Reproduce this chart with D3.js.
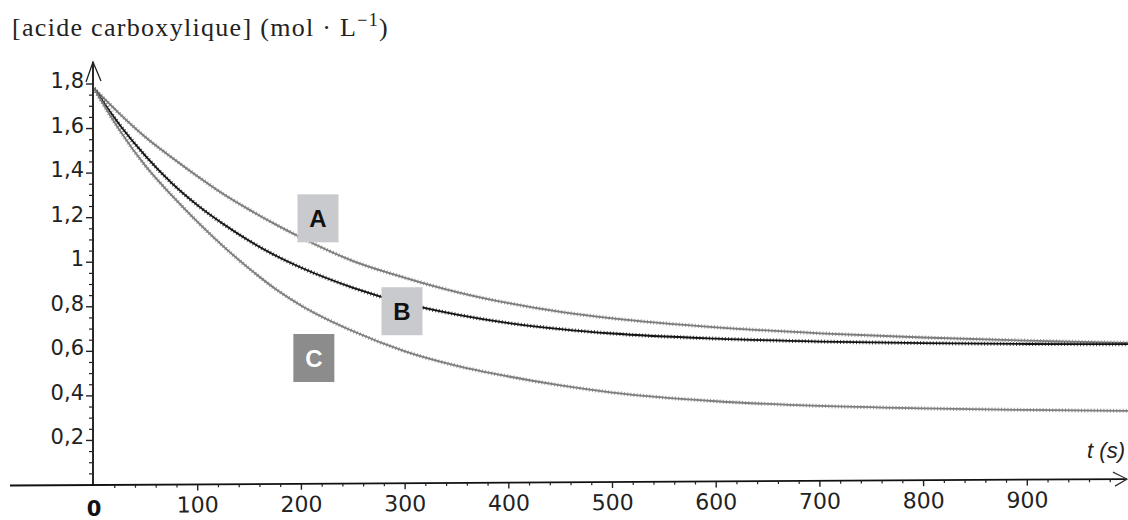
<!DOCTYPE html>
<html>
<head>
<meta charset="utf-8">
<script src="https://cdn.jsdelivr.net/npm/d3@7"></script>
<style>
  html, body { margin: 0; padding: 0; background: #fff; }
  svg { display: block; }
</style>
</head>
<body>
<svg id="chart" width="1128" height="520"></svg>
<script>
// ---- data ----
const times = [0, 25, 50, 75, 100, 125, 150, 175, 200, 250, 300, 350, 400, 450, 500, 600, 700, 800, 900, 1000];
const seriesA = [1.78, 1.665, 1.56, 1.47, 1.385, 1.305, 1.235, 1.17, 1.11, 1.005, 0.93, 0.866, 0.816, 0.777, 0.748, 0.708, 0.681, 0.662, 0.648, 0.638];
const seriesB = [1.78, 1.615, 1.475, 1.355, 1.255, 1.17, 1.095, 1.03, 0.975, 0.885, 0.815, 0.765, 0.727, 0.70, 0.68, 0.657, 0.644, 0.637, 0.633, 0.632];
const seriesC = [1.78, 1.59, 1.43, 1.30, 1.18, 1.07, 0.97, 0.88, 0.805, 0.69, 0.60, 0.535, 0.487, 0.447, 0.415, 0.376, 0.355, 0.344, 0.337, 0.333];
const seriesNames = ["A", "B", "C"];
const xTickValues = [100, 200, 300, 400, 500, 600, 700, 800, 900];
const yTickValues = [0.2, 0.4, 0.6, 0.8, 1, 1.2, 1.4, 1.6, 1.8];
const yTickLabels = ["0,2", "0,4", "0,6", "0,8", "1", "1,2", "1,4", "1,6", "1,8"];
// label anchors (t, concentration)
const labelT = [216, 297, 212];
const labelV = [1.197, 0.78, 0.57];
const yTitle = "[acide carboxylique] (mol  \u00B7 L";
const xTitle = "t (s)";

// ---- layout ----
const svg = d3.select("#chart");
const x = d3.scaleLinear().domain([0, 1000]).range([94, 1131]);
const y = d3.scaleLinear().domain([0, 1.8]).range([485, 84]);

const styles = {
  A: { color: "#7c7c7c", box: "#c9cacd", text: "#111" },
  B: { color: "#141414", box: "#c9cacd", text: "#111" },
  C: { color: "#7e7e7e", box: "#8c8c8c", text: "#fff" }
};

// ---- curves ----
const allSeries = [seriesA, seriesB, seriesC];
const line = d3.line().x(d => x(d[0])).y(d => y(d[1])).curve(d3.curveMonotoneX);
svg.append("clipPath").attr("id", "clip").append("rect")
  .attr("x", x(0)).attr("y", 0).attr("width", 1128 - x(0)).attr("height", y(0));
const curves = svg.append("g").attr("clip-path", "url(#clip)");
seriesNames.forEach((name, i) => {
  const pts = times.map((t, j) => [t, allSeries[i][j]]);
  curves.append("path").datum(pts).attr("d", line)
    .attr("fill", "none").attr("stroke", styles[name].color)
    .attr("stroke-width", 1.8);
  curves.append("path").datum(pts).attr("d", line)
    .attr("fill", "none").attr("stroke", styles[name].color)
    .attr("stroke-width", 4).attr("stroke-dasharray", "1,2.2")
    .attr("opacity", 0.75);
});

// ---- x axis ----
const xg = svg.append("g").attr("transform", "rotate(-0.33," + x(0) + "," + y(0) + ")");
xg.append("line").attr("x1", 10).attr("x2", 1127).attr("y1", y(0)).attr("y2", y(0))
  .attr("stroke", "#111").attr("stroke-width", 1.8);
xg.append("path")
  .attr("d", `M1113,${y(0) - 7} L1127,${y(0)} L1115,${y(0) + 7}`)
  .attr("fill", "none").attr("stroke", "#333").attr("stroke-width", 1.2);
const xMinor = d3.range(20, 1000, 20).filter(v => v % 100 !== 0);
xg.selectAll(".xminor").data(xMinor).enter().append("line")
  .attr("x1", d => x(d)).attr("x2", d => x(d)).attr("y1", y(0)).attr("y2", y(0) + 3)
  .attr("stroke", "#222").attr("stroke-width", 1.2);
xg.selectAll(".xmajor").data(xTickValues).enter().append("line")
  .attr("x1", d => x(d)).attr("x2", d => x(d)).attr("y1", y(0)).attr("y2", y(0) + 6)
  .attr("stroke", "#222").attr("stroke-width", 1.4);
xg.selectAll(".xlab").data(xTickValues).enter().append("text")
  .attr("x", d => x(d)).attr("y", y(0) + 28)
  .attr("text-anchor", "middle")
  .attr("font-family", "DejaVu Sans, Arial, sans-serif").attr("font-size", 22)
  .attr("fill", "#222").text(d => d);
svg.append("text").attr("x", x(0)).attr("y", y(0) + 31)
  .attr("text-anchor", "middle")
  .attr("font-family", "DejaVu Sans, Arial, sans-serif").attr("font-size", 21)
  .attr("font-weight", "bold").attr("fill", "#111").text("0");
svg.append("text").attr("x", 1125).attr("y", y(0) - 27)
  .attr("text-anchor", "end")
  .attr("font-family", "Liberation Sans, Arial, sans-serif").attr("font-size", 22)
  .attr("font-style", "italic").attr("fill", "#222").text(xTitle);

// ---- y axis ----
const yg = svg.append("g");
yg.append("line").attr("x1", x(0) - 1).attr("x2", x(0) - 1).attr("y1", y(0)).attr("y2", 62)
  .attr("stroke", "#111").attr("stroke-width", 1.8);
yg.append("path")
  .attr("d", `M${x(0) - 8},82 L${x(0) - 1},62 L${x(0) + 7},81`)
  .attr("fill", "none").attr("stroke", "#222").attr("stroke-width", 1.3);
const yMinor = d3.range(1, 36).map(i => i * 0.05).filter(v => Math.abs(v * 5 - Math.round(v * 5)) > 1e-6);
yg.selectAll(".yminor").data(yMinor).enter().append("line")
  .attr("x1", x(0) - 5).attr("x2", x(0) - 1).attr("y1", d => y(d)).attr("y2", d => y(d))
  .attr("stroke", "#222").attr("stroke-width", 1.2);
yg.selectAll(".ymajor").data(yTickValues).enter().append("line")
  .attr("x1", x(0) - 8).attr("x2", x(0) - 1).attr("y1", d => y(d)).attr("y2", d => y(d))
  .attr("stroke", "#222").attr("stroke-width", 1.4);
yg.selectAll(".ylab").data(yTickValues).enter().append("text")
  .attr("x", x(0) - 10).attr("y", d => y(d) + 4)
  .attr("text-anchor", "end")
  .attr("font-family", "DejaVu Sans, Arial, sans-serif").attr("font-size", 21)
  .attr("fill", "#222").text((d, i) => yTickLabels[i]);

// y title
const tt = svg.append("text").attr("x", 12).attr("y", 36)
  .attr("font-family", "Liberation Serif, Times New Roman, serif").attr("font-size", 26)
  .attr("letter-spacing", 1.3)
  .attr("fill", "#222");
tt.append("tspan").text(yTitle);
tt.append("tspan").attr("dy", -10).attr("font-size", 18).text("\u22121");
tt.append("tspan").attr("dy", 10).text(")");

// ---- series labels ----
seriesNames.forEach((name, i) => {
  const cx = x(labelT[i]), cy = y(labelV[i]);
  svg.append("rect").attr("x", cx - 20.5).attr("y", cy - 24).attr("width", 41).attr("height", 48)
    .attr("fill", styles[name].box);
  svg.append("text").attr("x", cx).attr("y", cy + 9)
    .attr("text-anchor", "middle")
    .attr("font-family", "Liberation Sans, Arial, sans-serif").attr("font-size", 24)
    .attr("font-weight", "bold").attr("fill", styles[name].text).text(name);
});
</script>
</body>
</html>
